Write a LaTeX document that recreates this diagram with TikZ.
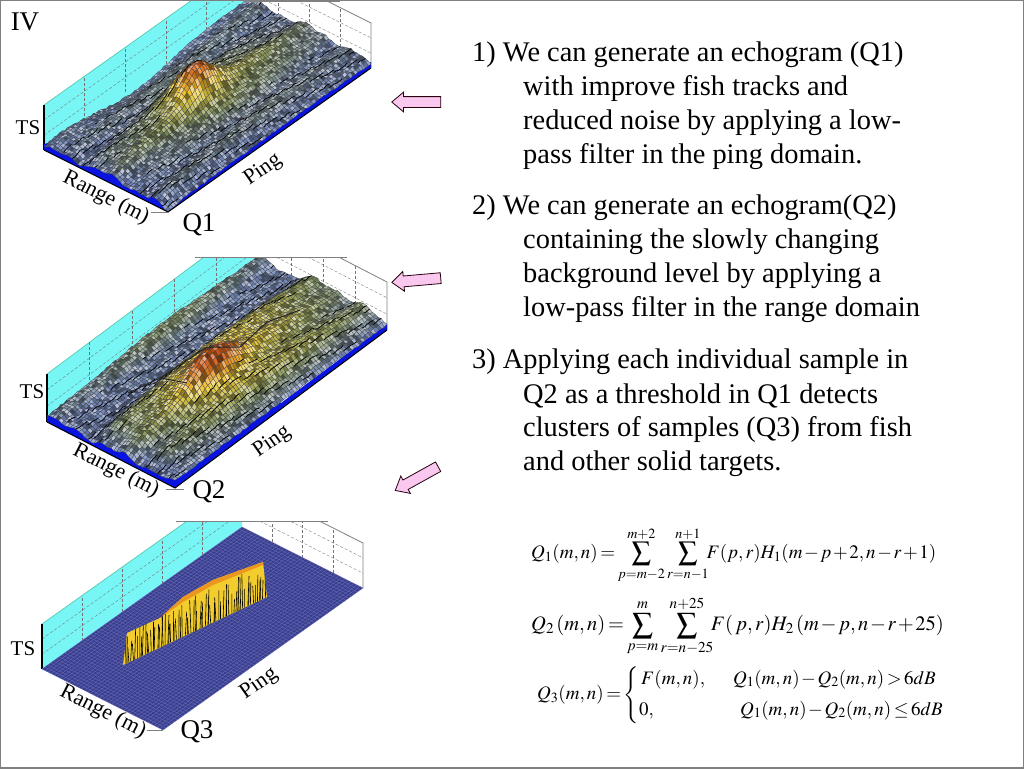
\documentclass[tikz,border=0pt]{standalone}
\usepackage{mathptmx}
\usepackage[no-math]{fontspec}
\setmainfont{Liberation Serif}
\usepackage{amsmath}
\usetikzlibrary{shapes.arrows}

\definecolor{wallcyan}{RGB}{120,246,246}
\definecolor{wallline}{RGB}{90,200,175}
\definecolor{floorblue}{RGB}{10,20,225}
\definecolor{meshA}{RGB}{115,135,185}
\definecolor{meshB}{RGB}{140,155,90}
\definecolor{meshC}{RGB}{240,205,45}
\definecolor{meshD}{RGB}{215,85,15}
\definecolor{flatblue}{RGB}{58,62,140}
\definecolor{flatline}{RGB}{105,112,190}
\definecolor{arrowpink}{RGB}{250,200,238}
\definecolor{blockyellow}{RGB}{242,205,45}
\definecolor{blockorange}{RGB}{235,150,30}

\tikzset{
  bodytext/.style={anchor=west, inner sep=0pt, font=\fontsize{28.4}{32}\selectfont},
  axislabel/.style={inner sep=0pt, font=\fontsize{22}{26}\selectfont},
  tslabel/.style={inner sep=0pt, font=\fontsize{21}{25}\selectfont},
  qlabel/.style={inner sep=0pt, font=\fontsize{27}{30}\selectfont},
  eqlabel/.style={anchor=west, inner sep=0pt, font=\fontsize{19}{23}\selectfont},
  pinkarrow/.style={single arrow, draw=black!80!purple, fill=arrowpink, line width=.8pt,
    inner xsep=0pt, inner ysep=5pt, minimum height=49pt,
    single arrow head extend=4.5pt, single arrow tip angle=80},
  griddash/.style={densely dashed, gray!90!black, line width=.35pt},
  meshedge/.style={draw=black!75, line width=.2pt},
  streakline/.style={black, line width=.7pt},
}

% walls and grid of one panel, #1 is the wall height
\newcommand{\panelwalls}[1]{
  \fill [wallcyan] (0,0,0) -- (0,0,#1) -- (0,1,#1) -- (0,1,0) -- (.2,1,0) -- (.2,0,0) -- cycle;
  \draw [wallline, line width=.7pt] (0,0,#1) -- (0,1,#1);
  \foreach \v in {.2,.4,.6,.8}
    \draw [griddash] (0,\v,0) -- (0,\v,#1);
  \foreach \t in {.33,.67}
    \draw [griddash] (0,0,#1*\t) -- (0,1,#1*\t);
  \foreach \u in {.25,.5,.75}
    \draw [griddash] (\u,1,0) -- (\u,1,#1);
  \foreach \t in {.33,.67}
    \draw [griddash] (0,1,#1*\t) -- (1,1,#1*\t);
  \draw [gray, line width=.8pt] (0,1,#1) -- (1,1,#1) -- (1,1,0);
  \draw [black, line width=1.2pt] (0,0,0) -- (0,0,#1);
}

% blue skirt under a surface
\newcommand{\panelskirt}{
  \fill [floorblue] (0,0,0) -- (1,0,0) -- (1,1,0) -- (1,1,6) -- (1,.5,6) -- (.5,.5,6) -- (.05,.05,6) -- (0,0,6) -- cycle;
}

% surface of one panel: cells in range, cells in ping, height function, top height
\newcommand{\surfmesh}[4]{
  \foreach \i in {0,...,#1}{
    \foreach \j in {0,...,#2}{
      \pgfmathsetmacro\hv{#3(\i/#1,\j/#2)+1.8*rnd}
      \expandafter\xdef\csname hh\i:\j\endcsname{\hv}
    }
  }
  \pgfmathtruncatemacro\lastU{#1-1}
  \pgfmathtruncatemacro\lastV{#2-1}
  \foreach \j in {\lastV,...,0}{
    \pgfmathtruncatemacro\jp{\j+1}
    \foreach \i in {0,...,\lastU}{
      \pgfmathtruncatemacro\ip{\i+1}
      \pgfmathsetmacro\ua{\i/#1}
      \pgfmathsetmacro\ub{\ip/#1}
      \pgfmathsetmacro\va{\j/#2}
      \pgfmathsetmacro\vb{\jp/#2}
      \edef\ha{\csname hh\i:\j\endcsname}
      \edef\hb{\csname hh\ip:\j\endcsname}
      \edef\hc{\csname hh\ip:\jp\endcsname}
      \edef\hd{\csname hh\i:\jp\endcsname}
      \pgfmathsetmacro\tv{min(100,max(0,25*(\ha+\hb+\hc+\hd-28)/#4))}
      \ifdim\tv pt<25pt
        \pgfmathsetmacro\mx{\tv*4}
        \colorlet{cellc}{meshB!\mx!meshA}
      \else\ifdim\tv pt<60pt
        \pgfmathsetmacro\mx{(\tv-25)*100/35}
        \colorlet{cellc}{meshC!\mx!meshB}
      \else
        \pgfmathsetmacro\mx{(\tv-60)*2.5}
        \colorlet{cellc}{meshD!\mx!meshC}
      \fi\fi
      \pgfmathtruncatemacro\sk{50+rnd*50}
      \pgfmathtruncatemacro\side{rnd*2}
      \ifnum\side=0 \colorlet{cellm}{white}\else\colorlet{cellm}{black}\fi
      \filldraw [meshedge, fill=cellc!\sk!cellm]
        (\ua,\va,\ha) -- (\ub,\va,\hb) -- (\ub,\vb,\hc) -- (\ua,\vb,\hd) -- cycle;
      \pgfmathsetmacro\st{sin(173*\i)*sin(23*\j+97*\i)}
      \ifdim\st pt>.55pt
        \draw [streakline] (\ua,\va,\ha) -- (\ua,\vb,\hd);
      \fi
    }
  }
}

\begin{document}
\begin{tikzpicture}[x=1pt, y=-1pt,
    declare function={
      gs(\x,\s)=exp(-(\x/\s)*(\x/\s));
      ridgeA(\u,\v)=6+1.8*sin(\u*900)+1.2*sin(\u*2100+\v*200)
        +14*gs(\u-.5,.25)*gs(\v-.5,.42)+28*gs(\u-.45,.13)*gs(\v-.46,.10)
        -14*gs(\u,.1)*gs(\v-.45,.25)-3*gs(\u-1,.06)-3*gs(\v,.04);
      ridgeB(\u,\v)=5+1.8*sin(\u*800+\v*90)+1.4*sin(\u*1900)
        +12*min(1,max(0,(\u-.28)*10))*gs(\v-.5,.6)*min(1,(1-\u)*6)*min(1,\v*12)
        +8*gs(\u-.6,.22)*gs(\v-.55,.32)+24*gs(\u-.62,.13)*gs(\v-.4,.13)
        +6*gs(\u,.18)*gs(\v-.55,.3)-2*gs(\u-1,.06);
    }]
  \useasboundingbox (0,0) rectangle (1024,768);
  \pgfmathsetseed{4711}
  \fill [white] (0,0) rectangle (1024,768);

  % Q1 panel
  \begin{scope}
    \clip (0,2) rectangle (1024,768);
    \begin{scope}[shift={(44,150)}, x={(124pt,-62pt)}, y={(203pt,144pt)}, z={(0pt,1pt)}]
      \panelwalls{45}
      \panelskirt
      \surfmesh{44}{78}{ridgeA}{42}
      \draw [black, line width=1pt] (0,0,0) -- (1,0,0) -- (1,1,0);
    \end{scope}
  \end{scope}
  \draw [gray, line width=1pt] (250,2) -- (340,2);
  \draw [gray] (151,212) -- (168,212);

  % Q2 panel
  \begin{scope}
    \clip (0,257) rectangle (1024,768);
    \begin{scope}[shift={(47,422)}, x={(128pt,-66pt)}, y={(212pt,158pt)}, z={(0pt,1pt)}]
      \panelwalls{48}
      \panelskirt
      \surfmesh{44}{78}{ridgeB}{36}
      \draw [black, line width=1pt] (0,0,0) -- (1,0,0) -- (1,1,0);
    \end{scope}
  \end{scope}
  \draw [black!85, line width=1pt] (128,393) -- (160,378) -- (187,383);
  \draw [black!85, line width=1pt] (160,378) -- (207,347) -- (240,347) -- (267,322) -- (300,310);
  \draw [gray, line width=1pt] (195,257) -- (347,257);
  \draw [gray, line width=1pt] (166,489) -- (184,489);

  % Q3 panel
  \begin{scope}
    \clip (0,522) rectangle (1024,768);
    \begin{scope}[shift={(42,669)}, x={(121pt,-61pt)}, y={(200pt,142pt)}, z={(0pt,1pt)}]
      \panelwalls{45}
      \fill [flatblue] (0,0,0) -- (1,0,0) -- (1,1,0) -- (0,1,0) -- cycle;
      \foreach \k in {0,...,40}
        \draw [flatline, line width=.3pt] (\k/40,0,0) -- (\k/40,1,0);
      \foreach \k in {0,...,70}
        \draw [flatline, line width=.3pt] (0,\k/70,0) -- (1,\k/70,0);
    \end{scope}
  \end{scope}
  \draw [gray, line width=1pt] (176,521) -- (328,521);
  \draw [gray] (147,730) -- (163,730);

  % fish block of Q3
  \begin{scope}
    \clip (123,665) -- (127,633) -- (160,618) -- (183,597) -- (213,580) -- (263,562)
      -- (267,597) -- cycle;
    \fill [blockyellow] (120,670) rectangle (270,555);
    \fill [blockorange] (160,618) -- (183,597) -- (213,580) -- (263,562) -- (263,565)
      -- (213,585) -- (183,602) -- cycle;
    \foreach \k in {0,...,70}{
      \pgfmathsetmacro\lx{124+\k*2+2*rnd}
      \pgfmathsetmacro\ly{670-.47*(\lx-123)-4*rnd}
      \pgfmathsetmacro\lt{\ly-18-20*rnd}
      \draw [black, line width=.6pt] (\lx,\ly) -- (\lx+3*rnd-1.5,\lt);
    }
  \end{scope}

  % labels of the panels
  \node (iv) at (25,22) [qlabel] {IV};
  \node (tsA) at (28,128) [tslabel] {TS};
  \node (rangeA) at (106,198) [axislabel, rotate=-27] {Range (m)};
  \node (pingA) at (263,170) [axislabel, rotate=35] {Ping};
  \node (qA) at (199,225) [qlabel] {Q1};
  \node (tsB) at (32,392) [tslabel] {TS};
  \node (rangeB) at (116,471) [axislabel, rotate=-27] {Range (m)};
  \node (pingB) at (272,442) [axislabel, rotate=35] {Ping};
  \node (qB) at (209,492) [qlabel] {Q2};
  \node (tsC) at (23,649) [tslabel] {TS};
  \node (rangeC) at (103,712) [axislabel, rotate=-27] {Range (m)};
  \node (pingC) at (259,684) [axislabel, rotate=35] {Ping};
  \node (qC) at (197,732) [qlabel] {Q3};

  % arrows
  \node (arrA) at (419.5,102) [pinkarrow, shape border rotate=180] {};
  \node (arrB) at (419.5,280) [pinkarrow, shape border rotate=180, rotate=5] {};
  \node (arrC) at (419.5,477) [pinkarrow, shape border rotate=180, rotate=29] {};

  % text lines
  \foreach \n/\x/\y/\txt in {
    a/472/55/{1) We can generate an echogram (Q1)},
    b/523/89/{with improve fish tracks and},
    c/523/123/{reduced noise by applying a low-},
    d/523/157/{pass filter in the ping domain.},
    e/472/208/{2) We can generate an echogram(Q2)},
    f/523/242/{containing the slowly changing},
    g/523/276/{background level by applying a},
    h/523/310/{low-pass filter in the range domain},
    i/472/362/{3) Applying each individual sample in},
    j/523/396/{Q2 as a threshold in Q1 detects},
    k/523/430/{clusters of samples (Q3) from fish},
    l/523/464/{and other solid targets.}}
    \node (line\n) at (\x,\y) [bodytext] {\txt};

  % equations
  \node (eqA) at (531,555) [eqlabel]
    {$\medmuskip=1.5mu\thickmuskip=2.5mu\displaystyle Q_1(m,n)=\sum_{p=m-2}^{m+2}\sum_{r=n-1}^{n+1}\!\!F(p,r)H_1(m-p+2,n-r+1)$};
  \node (eqB) at (531,626) [eqlabel, font=\fontsize{20.5}{24}\selectfont]
    {$\medmuskip=1.5mu\thickmuskip=2.5mu\displaystyle Q_2\,(m,n)=\sum_{p=m}^{m}\sum_{r=n-25}^{n+25}\!\!F(\,p,r)H_2\,(m-p,n-r+25)$};
  \node (eqC) at (537,695) [eqlabel, font=\fontsize{19}{23}\selectfont]
    {$\medmuskip=1.5mu\thickmuskip=2.5mu Q_3(m,n)=\left\{\begin{array}{@{}l@{\hspace{28pt}}l@{}}
      \,F(m,n), & Q_1(m,n)-Q_2(m,n)>6dB\\[8pt]
      0, & \hspace{7pt}Q_1(m,n)-Q_2(m,n)\leq 6dB
    \end{array}\right.$};

  % slide border
  \draw [gray, line width=1.5pt] (0,0) rectangle (1024,768);
\end{tikzpicture}
\end{document}
